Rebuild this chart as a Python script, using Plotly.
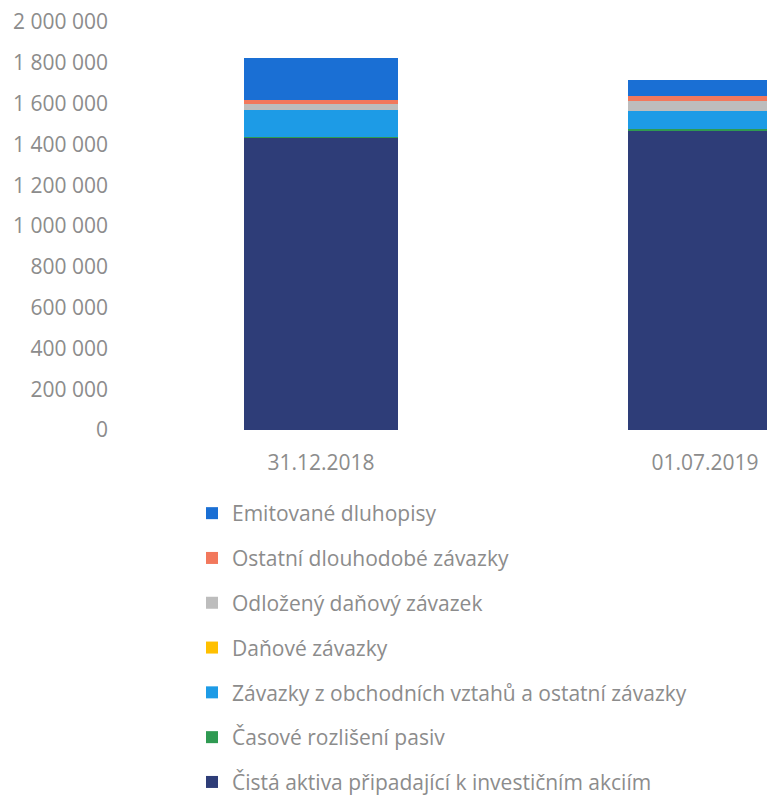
import plotly.graph_objects as go

categories = ["31.12.2018", "01.07.2019"]

series_names = [
    "Čistá aktiva připadající k investičním akciím",
    "Časové rozlišení pasiv",
    "Závazky z obchodních vztahů a ostatní závazky",
    "Daňové závazky",
    "Odložený daňový závazek",
    "Ostatní dlouhodobé závazky",
    "Emitované dluhopisy",
]

cista_aktiva = [1436000, 1470000]
casove_rozliseni = [2000, 5000]
zavazky_obchod = [132000, 90000]
danove_zavazky = [1000, 1000]
odlozeny_dan = [29000, 49000]
ostatni_dlouhodobe = [20000, 20000]
emitovane_dluhopisy = [206000, 80000]

series_values = [
    cista_aktiva,
    casove_rozliseni,
    zavazky_obchod,
    danove_zavazky,
    odlozeny_dan,
    ostatni_dlouhodobe,
    emitovane_dluhopisy,
]

colors = ["#2e3d78", "#2f9a52", "#1d9be6", "#ffc000", "#bdbdbd", "#f2785c", "#1a6fd4"]

fig = go.Figure()
n = len(series_names)
for i, (name, vals, col) in enumerate(zip(series_names, series_values, colors)):
    fig.add_trace(go.Bar(
        x=categories, y=vals, name=name, marker_color=col,
        marker_line_width=0, legendgroup=f"g{i}", legendrank=100 * (n - i),
    ))

FW, FH = 767, 787
L, T, B = 112, 14, 365
H = FH - T - B
W = FW - L
FONT = "Open Sans, Noto Sans, sans-serif"
TXT = "#8c8c8c"
FS = 21

fig.update_layout(
    width=FW, height=FH,
    barmode="stack", bargap=0.6,
    plot_bgcolor="white", paper_bgcolor="white",
    margin=dict(l=L, r=0, t=T, b=B, autoexpand=False),
    separators=", ",
    font=dict(family=FONT, color=TXT, size=FS),
    showlegend=True,
    legend=dict(
        x=(184 - L) / W, y=(422 - 485) / H, xanchor="left", yanchor="top",
        traceorder="grouped", tracegroupgap=14.5,
        font=dict(family=FONT, size=FS, color=TXT),
        bgcolor="rgba(0,0,0,0)",
    ),
    xaxis=dict(
        type="category", range=[-0.5234, 1.1823],
        showgrid=False, showline=False, zeroline=False,
        tickfont=dict(family=FONT, size=FS, color=TXT),
        ticklabelstandoff=18,
    ),
    yaxis=dict(
        range=[0, 2000000], dtick=200000, tickformat=",d",
        showgrid=False, showline=False, zeroline=False,
        tickfont=dict(family=FONT, size=FS, color=TXT),
        ticklabelstandoff=11, ticklabeloverflow="allow",
    ),
)

fig.write_html("out.html")
